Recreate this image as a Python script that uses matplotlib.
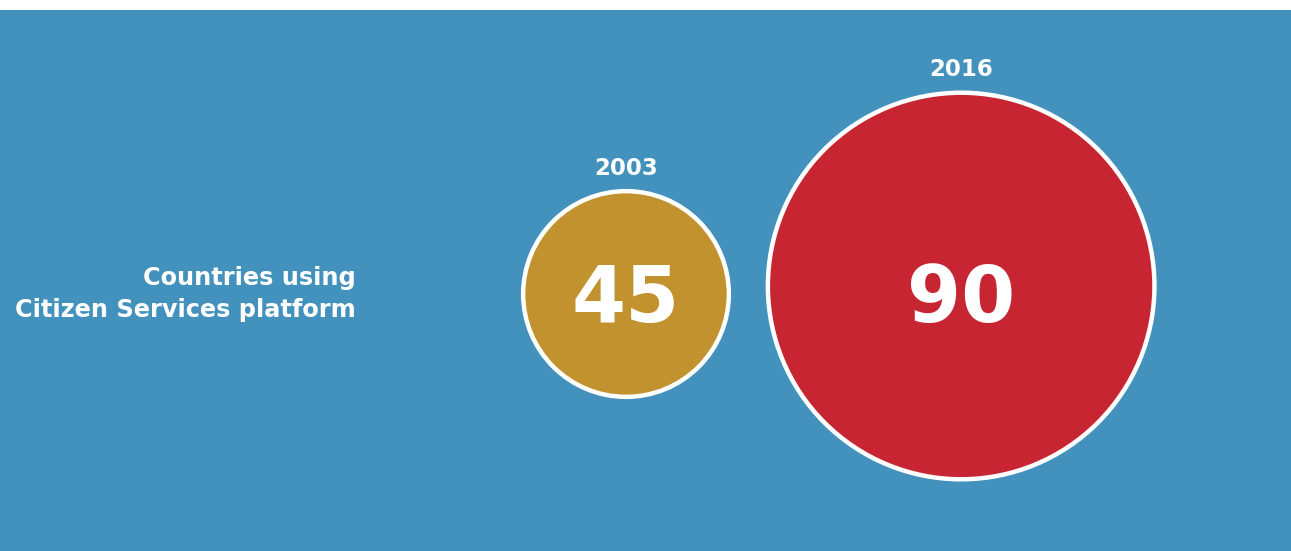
import matplotlib.pyplot as plt
from matplotlib.patches import Circle

# data
years = ['2003', '2016']
values = [45, 90]
colors = ['#C2922F', '#C82533']
label = 'Countries using\nCitizen Services platform'

W, H = 1291, 551
fig = plt.figure(figsize=(W / 100, H / 100), dpi=100, facecolor='white')
ax = fig.add_axes([0, 0, 1, (H - 10) / H])
ax.set_facecolor('#4391BD')
ax.set_xlim(0, W)
ax.set_ylim(H - 10, 0)
ax.set_xticks([])
ax.set_yticks([])
for s in ax.spines.values():
    s.set_visible(False)

# radius grows a bit slower than the value
def radius(v):
    return 3.22 * v ** 0.91

gap = 39
cy = [284, 276]
cx = 626
for i, (yr, v) in enumerate(zip(years, values)):
    r = radius(v)
    if i > 0:
        cx = cx + radius(values[i - 1]) + gap + r
    ax.add_patch(Circle((cx, cy[i]), r, facecolor=colors[i], edgecolor='white', lw=3.2, zorder=2))
    # numbers share one baseline
    ax.text(cx, 312, str(v), ha='center', va='baseline', color='white',
            fontsize=56, fontweight='bold', zorder=3)
    ax.text(cx, cy[i] - r - 23, yr, ha='center', va='center', color='white',
            fontsize=16.5, fontweight='bold', zorder=3)

ax.text(356, 284, label, ha='right', va='center', color='white', fontsize=17.3,
        fontweight='bold', linespacing=1.4)

fig.savefig('out.png', dpi=100, facecolor='white')
